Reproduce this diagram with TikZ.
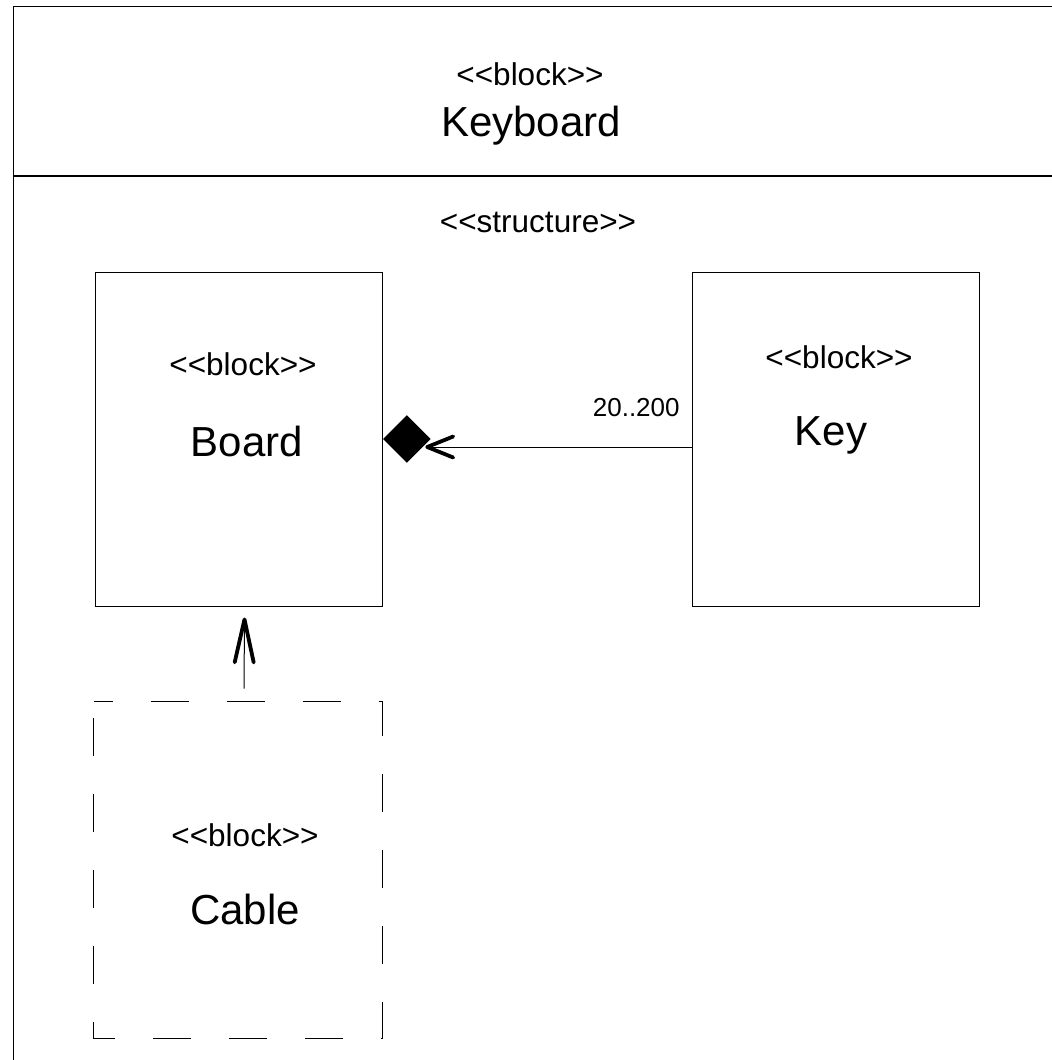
\documentclass[tikz,border=0pt]{standalone}
\usepackage{fontspec}
\setmainfont{Liberation Sans}[Ligatures=TeXOff]
\usetikzlibrary{arrows.meta,shapes.geometric}
\begin{document}
\begin{tikzpicture}[x=0.5pt,y=-0.5pt,
  frameline/.style={line width=0.6pt},
  blockbox/.style={draw, line width=0.5pt, inner sep=0pt,
    minimum width=143.5pt, minimum height=167pt},
  stereo/.style={font=\fontsize{15.75}{18}\selectfont, inner sep=0pt},
  bname/.style={font=\fontsize{21}{24}\selectfont, inner sep=0pt},
  mult/.style={font=\fontsize{13}{15}\selectfont, inner sep=0pt},
  partline/.style={line width=0.5pt},
  barb/.style={-{Straight Barb[length=13pt, width=10.5pt, line width=1.9pt, round]}},
  upbarb/.style={-{Straight Barb[length=21.5pt, width=9.5pt, line width=1.9pt, round]}}]
\clip (0,0) rectangle (1052,1060);

% Keyboard block frame, running past the right and bottom edges
\node[draw, frameline, inner sep=0pt, anchor=north west,
  minimum width=600pt, minimum height=600pt] (keyboard) at (13,6) {};
\coordinate (divl) at (13,176);
\coordinate (divr) at (1100,176);
\draw[frameline] (divl) -- (divr);

\node[stereo] (kbdstereo) at (530,74) {<<block>>};
\node[bname] (kbdname) at (531,126) {Keyboard};
\node[stereo] (structure) at (538,222) {<<structure>>};

% Parts
\node[blockbox] (board) at (238.5,439) {};
\node[stereo] (boardstereo) at (243,364) {<<block>>};
\node[bname] (boardname) at (247,441) {Board};

\node[blockbox] (key) at (836,439) {};
\node[stereo] (keystereo) at (839,357) {<<block>>};
\node[bname] (keyname) at (831,435) {Key};

\node[inner sep=0pt, minimum width=144pt, minimum height=168pt] (cable) at (238,870) {};
\draw[line width=0.5pt, dash pattern=on 19pt off 19pt, dash phase=9.5pt]
  (cable.north west) -- (cable.north east) -- (cable.south east)
  -- (cable.south west) -- cycle;
\node[stereo] (cablestereo) at (245,835) {<<block>>};
\node[bname] (cablename) at (245,909) {Cable};

% Composition Key -> Board
\node[diamond, fill=black, inner sep=0pt, aspect=1, minimum width=24pt,
  minimum height=24pt, anchor=west] (comp) at (board.east) {};
\coordinate (keyend) at ([yshift=-4pt]key.west);
\draw[partline, barb, shorten >=-3pt] (keyend) -- (comp.east |- keyend);
\node[mult, anchor=east] (multkey) at (680,408) {20..200};

% Dependency Cable -> Board
\draw[partline, upbarb]
  ([xshift=3pt,yshift=6.5pt]cable.north) -- ([xshift=3pt,yshift=-5.5pt]board.south);
\end{tikzpicture}
\end{document}
